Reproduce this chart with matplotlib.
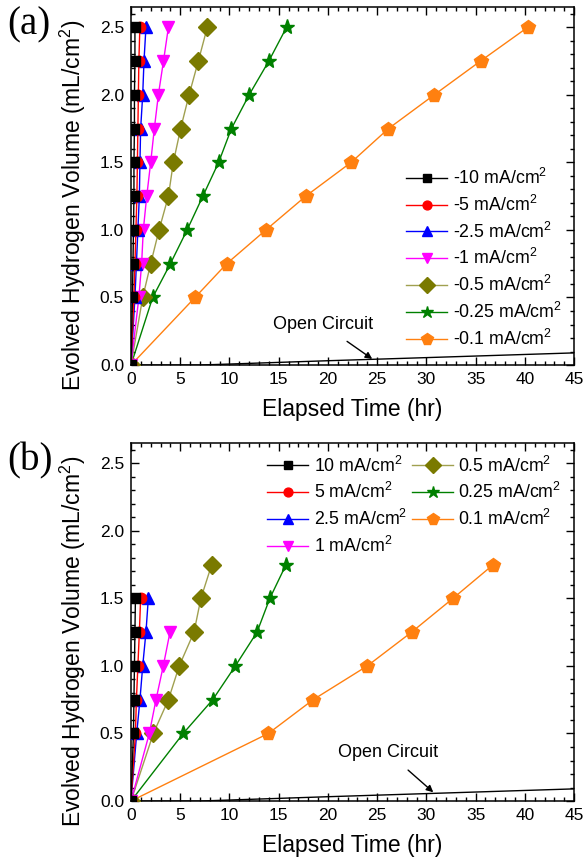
import matplotlib
matplotlib.use("Agg")
import matplotlib.pyplot as plt
from matplotlib.ticker import MultipleLocator

plt.rcParams['font.family'] = ['Liberation Sans', 'DejaVu Sans']
plt.rcParams['mathtext.fontset'] = 'custom'
plt.rcParams['mathtext.rm'] = 'Liberation Sans'
plt.rcParams['mathtext.it'] = 'Liberation Sans'

# ---------------- data ----------------
labels_a = ["-10 mA/cm$^2$", "-5 mA/cm$^2$", "-2.5 mA/cm$^2$", "-1 mA/cm$^2$",
            "-0.5 mA/cm$^2$", "-0.25 mA/cm$^2$", "-0.1 mA/cm$^2$"]
labels_b = ["10 mA/cm$^2$", "5 mA/cm$^2$", "2.5 mA/cm$^2$", "1 mA/cm$^2$",
            "0.5 mA/cm$^2$", "0.25 mA/cm$^2$", "0.1 mA/cm$^2$"]
colors = ["#000000", "#FF0000", "#0000FF", "#FF00FF", "#7A7A00", "#008000", "#FF8010"]
line_colors = ["#000000", "#FF0000", "#0000FF", "#FF00FF", "#A0A050", "#008000", "#FF8010"]
markers = ["s", "o", "^", "v", "D", "*", "p"]
msizes = [7.5, 7.5, 9, 9, 9, 11, 10]

vol_a = [0, 0.5, 0.75, 1.0, 1.25, 1.5, 1.75, 2.0, 2.25, 2.5]
time_a = [
    [0, 0.15, 0.2, 0.25, 0.3, 0.3, 0.35, 0.35, 0.4, 0.4],
    [0, 0.3, 0.4, 0.5, 0.6, 0.65, 0.7, 0.75, 0.8, 0.9],
    [0, 0.4, 0.55, 0.7, 0.85, 0.91, 0.98, 1.19, 1.32, 1.52],
    [0, 0.8, 1.08, 1.25, 1.6, 2.0, 2.37, 2.78, 3.3, 3.8],
    [0, 1.19, 2.0, 2.85, 3.8, 4.3, 5.04, 5.9, 6.84, 7.75],
    [0, 2.2, 4.0, 5.7, 7.3, 8.9, 10.2, 12.0, 14.0, 15.8],
    [0, 6.5, 9.72, 13.7, 17.75, 22.36, 26.15, 30.8, 35.5, 40.3],
]

vol_b = [[0, 0.5, 0.75, 1.0, 1.25, 1.5],
         [0, 0.5, 0.75, 1.0, 1.25, 1.5],
         [0, 0.5, 0.75, 1.0, 1.25, 1.5],
         [0, 0.5, 0.75, 1.0, 1.25],
         [0, 0.5, 0.75, 1.0, 1.25, 1.5, 1.75],
         [0, 0.5, 0.75, 1.0, 1.25, 1.5, 1.75],
         [0, 0.5, 0.75, 1.0, 1.25, 1.5, 1.75]]
time_b = [
    [0, 0.25, 0.3, 0.35, 0.4, 0.45],
    [0, 0.45, 0.55, 0.7, 0.85, 0.98],
    [0, 0.58, 0.91, 1.19, 1.52, 1.76],
    [0, 1.86, 2.54, 3.28, 3.96],
    [0, 2.27, 3.8, 4.9, 6.4, 7.1, 8.2],
    [0, 5.3, 8.3, 10.6, 12.8, 14.1, 15.75],
    [0, 13.95, 18.5, 24.0, 28.5, 32.7, 36.8],
]

oc_time = [0, 7, 20, 30, 45]
oc_vol = [0, 0.0, 0.032, 0.055, 0.09]

# ---------------- figure ----------------
fig = plt.figure(figsize=(5.84, 8.63), dpi=100)
ax_a = fig.add_axes([0.2243, 0.577, 0.7587, 0.4149])
ax_b = fig.add_axes([0.2243, 0.0718, 0.7587, 0.4149])


def style(ax):
    ax.set_xlim(0, 45)
    ax.set_ylim(0, 2.65)
    ax.xaxis.set_major_locator(MultipleLocator(5))
    ax.xaxis.set_minor_locator(MultipleLocator(1))
    ax.yaxis.set_major_locator(MultipleLocator(0.5))
    ax.yaxis.set_minor_locator(MultipleLocator(0.1))
    ax.yaxis.set_major_formatter(matplotlib.ticker.FormatStrFormatter('%.1f'))
    ax.tick_params(which='both', direction='in', top=True, right=True,
                   labelsize=12.5, width=1.0)
    ax.tick_params(which='major', length=6, pad=5)
    ax.tick_params(which='minor', length=3)
    for s in ax.spines.values():
        s.set_linewidth(1.1)
    ax.set_xlabel("Elapsed Time (hr)", fontsize=16.5, labelpad=8)
    ax.set_ylabel("Evolved Hydrogen Volume (mL/cm$^2$)", fontsize=16.5)
    ax.yaxis.set_label_coords(-0.097, 0.445)


leg_kw = dict(frameon=False, fontsize=12.8, handlelength=2.3, labelspacing=0.38,
              handletextpad=0.3, borderaxespad=0.3)

handles_a = []
for i in reversed(range(7)):
    h, = ax_a.plot(time_a[i], vol_a, color=line_colors[i], lw=1.0,
                   marker=markers[i], ms=msizes[i], mfc=colors[i], mec=colors[i],
                   label=labels_a[i], zorder=3 + (7 - i))
    handles_a.insert(0, h)
ax_a.plot(oc_time, oc_vol, color='black', lw=1.0, zorder=2)
style(ax_a)
ax_a.legend(handles=handles_a, loc='lower right', bbox_to_anchor=(1.0, 0.01),
            markerscale=0.85, **leg_kw)
ax_a.annotate("Open Circuit", xy=(24.5, 0.045), xytext=(19.5, 0.3),
              ha='center', va='center', fontsize=13,
              arrowprops=dict(arrowstyle='-|>', color='black', lw=1.0,
                              shrinkA=7, shrinkB=0, mutation_scale=10))

handles_b = []
for i in reversed(range(7)):
    h, = ax_b.plot(time_b[i], vol_b[i], color=line_colors[i], lw=1.0,
                   marker=markers[i], ms=msizes[i], mfc=colors[i], mec=colors[i],
                   label=labels_b[i], zorder=3 + (7 - i))
    handles_b.insert(0, h)
ax_b.plot(oc_time, oc_vol, color='black', lw=1.0, zorder=2)
style(ax_b)
ax_b.legend(handles=handles_b, loc='upper right', ncol=2, columnspacing=0.3,
            markerscale=0.85, **leg_kw)
ax_b.annotate("Open Circuit", xy=(30.7, 0.065), xytext=(26.1, 0.36),
              ha='center', va='center', fontsize=13,
              arrowprops=dict(arrowstyle='-|>', color='black', lw=1.0,
                              shrinkA=7, shrinkB=0, mutation_scale=10))

fig.text(0.012, 0.971, "(a)", fontsize=28, family='Liberation Serif', va='center')
fig.text(0.012, 0.466, "(b)", fontsize=28, family='Liberation Serif', va='center')

fig.savefig("out.png", dpi=100)
